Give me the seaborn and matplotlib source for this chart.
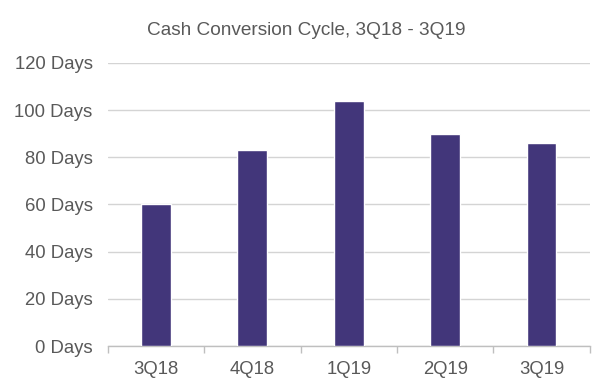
import pandas as pd
import seaborn as sns
from matplotlib import pyplot as plt
from matplotlib.ticker import FuncFormatter, FixedLocator

quarters = ["3Q18", "4Q18", "1Q19", "2Q19", "3Q19"]
days = [60, 83, 104, 90, 86]

df = pd.DataFrame({"quarter": quarters, "days": days})

sns.set_theme(style="white")
plt.rcParams["font.family"] = ["Liberation Sans", "DejaVu Sans"]

fig = plt.figure(figsize=(6.13, 3.91), dpi=100)
ax = fig.add_axes([0.176, 0.115, 0.786, 0.724])

sns.barplot(x="quarter", y="days", data=df, color="#42367a", width=0.31,
            saturation=1, ax=ax, zorder=3)

ax.set_ylim(0, 120)
ax.set_yticks(range(0, 121, 20))
ax.yaxis.set_major_formatter(FuncFormatter(lambda v, p: f"{int(v)} Days"))
ax.set_xlim(-0.5, len(quarters) - 0.5)
ax.grid(axis="y", color="#d4d4d4", linewidth=1, zorder=0)

for s in ["top", "right", "left"]:
    ax.spines[s].set_visible(False)
ax.spines["bottom"].set_color("#bfbfbf")
ax.spines["bottom"].set_linewidth(1)

ax.tick_params(axis="y", length=0, pad=11, labelsize=13.3, labelcolor="#595959")
ax.tick_params(axis="x", length=0, pad=11, labelsize=13.3, labelcolor="#595959")
# small ticks between the categories on the bottom axis
ax.xaxis.set_minor_locator(FixedLocator([i - 0.5 for i in range(len(quarters) + 1)]))
ax.tick_params(axis="x", which="minor", length=5, color="#bfbfbf", width=1, bottom=True)

ax.set_xlabel("")
ax.set_ylabel("")
fig.text(0.5, 0.922, "Cash Conversion Cycle, 3Q18 - 3Q19", ha="center", va="center",
         fontsize=13.7, color="#595959")

plt.savefig("out.png", dpi=100)
